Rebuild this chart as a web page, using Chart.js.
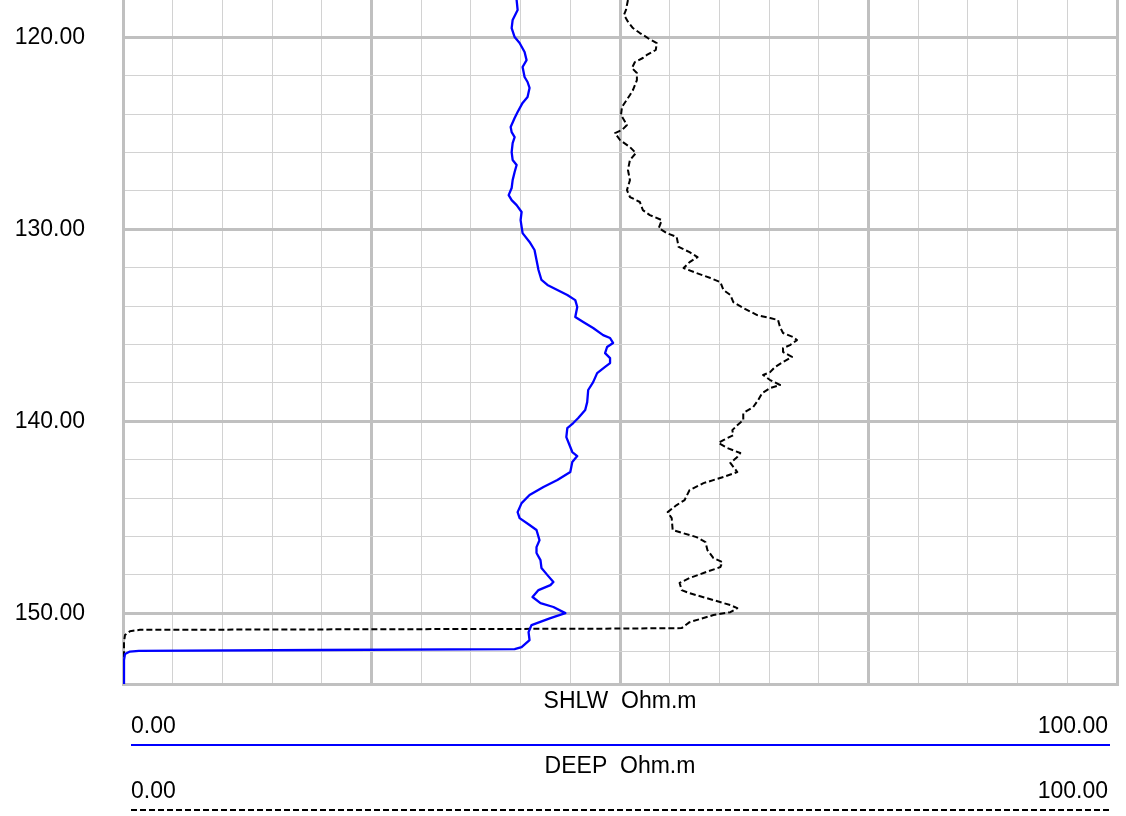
<!DOCTYPE html>
<html>
<head>
<meta charset="utf-8">
<script src="https://cdn.jsdelivr.net/npm/chart.js@4.4.0/dist/chart.umd.min.js"></script>
<style>
  html, body { margin: 0; padding: 0; background: #fff; }
  #wrap { width: 1126px; height: 816px; position: relative; }
</style>
</head>
<body>
<div id="wrap"><canvas id="logChart"></canvas></div>
<script>
// depth (m) and resistivity readings, top to bottom
var shlwDepth = [118.06, 118.58, 119.10, 119.52, 119.99, 120.30, 120.77, 121.19, 121.55, 122.07,
  122.33, 122.64, 123.11, 123.42, 123.89, 124.21, 124.67, 124.94, 125.20, 125.51,
  125.98, 126.39, 126.65, 127.02, 127.44, 127.85, 128.22, 128.48, 128.74, 129.10,
  129.52, 130.20, 130.66, 131.08, 131.60, 132.12, 132.64, 132.90, 133.16, 133.42,
  133.69, 134.05, 134.57, 134.83, 135.14, 135.51, 135.66, 135.92, 136.13, 136.45,
  136.71, 136.97, 137.17, 137.49, 137.96, 138.37, 139.00, 139.41, 139.83, 140.09,
  140.35, 140.82, 141.34, 141.60, 141.81, 142.12, 142.64, 143.06, 143.42, 143.84,
  144.26, 144.73, 145.04, 145.40, 145.66, 146.19, 146.55, 146.86, 147.23, 147.64,
  148.01, 148.37, 148.53, 148.79, 149.15, 149.47, 149.67, 149.99, 150.25, 150.61,
  150.98, 151.39, 151.76, 151.86, 151.91, 151.95, 151.99, 152.12, 152.44, 153.68];
var shlwValue = [39.6, 39.7, 39.2, 39.1, 39.4, 39.9, 40.4, 40.6, 40.2, 40.4,
  40.7, 40.9, 40.7, 40.2, 39.7, 39.4, 39.0, 39.1, 39.4, 39.2,
  39.1, 39.2, 39.6, 39.4, 39.2, 39.1, 38.8, 39.1, 39.6, 40.1,
  40.0, 40.2, 40.9, 41.4, 41.6, 41.8, 42.1, 42.7, 43.7, 44.7,
  45.5, 45.7, 45.5, 46.3, 47.3, 48.3, 49.0, 49.3, 48.7, 48.5,
  49.0, 49.0, 48.5, 47.7, 47.3, 46.8, 46.7, 46.5, 45.8, 45.3,
  44.7, 44.6, 45.0, 45.2, 45.7, 45.2, 45.0, 43.7, 42.3, 40.9,
  40.1, 39.7, 39.9, 40.9, 41.6, 41.9, 41.6, 41.6, 42.0, 42.1,
  42.7, 43.3, 43.0, 41.8, 41.2, 42.0, 43.3, 44.5, 43.0, 41.1,
  40.8, 40.9, 40.1, 39.4, 19.8, 1.6, 0.7, 0.2, 0.1, 0.1];

var deepDepth = [118.06, 118.58, 118.84, 119.19, 119.52, 119.78, 120.04, 120.30, 120.66, 120.92,
  121.08, 121.29, 121.60, 121.86, 122.23, 122.75, 123.01, 123.63, 124.05, 124.57,
  124.83, 124.99, 125.35, 125.72, 126.03, 126.39, 126.91, 127.44, 127.96, 128.32,
  128.58, 129.00, 129.26, 129.52, 129.94, 130.20, 130.40, 130.92, 131.19, 131.45,
  131.71, 132.02, 132.28, 132.54, 132.75, 133.16, 133.42, 133.79, 134.10, 134.47,
  134.62, 134.73, 135.09, 135.40, 135.61, 135.77, 136.03, 136.19, 136.39, 136.65,
  136.91, 137.17, 137.44, 137.59, 137.85, 138.11, 138.27, 138.53, 138.89, 139.26,
  139.57, 139.94, 140.20, 140.46, 140.72, 140.98, 141.13, 141.39, 141.65, 141.86,
  142.17, 142.64, 142.90, 143.22, 143.58, 144.10, 144.36, 144.73, 145.04, 145.66,
  145.82, 146.03, 146.29, 146.71, 147.12, 147.33, 147.59, 147.90, 148.16, 148.42,
  148.79, 148.95, 149.31, 149.57, 149.73, 149.94, 150.09, 150.46, 150.77, 150.80,
  150.82, 150.86, 150.93, 151.13, 151.50, 153.68];
var deepValue = [50.8, 50.6, 50.4, 50.8, 51.3, 52.0, 52.8, 53.7, 53.6, 52.7,
  52.3, 51.5, 51.2, 51.7, 51.7, 51.3, 51.0, 50.2, 50.1, 50.7,
  50.2, 49.5, 50.0, 51.0, 51.6, 51.0, 50.8, 51.0, 50.7, 51.0,
  52.0, 52.3, 53.0, 54.2, 53.9, 54.7, 55.7, 55.9, 57.0, 57.8,
  57.0, 56.4, 57.7, 59.1, 60.1, 60.4, 61.1, 61.4, 62.4, 63.8,
  65.1, 65.9, 66.1, 66.4, 67.4, 67.8, 67.1, 66.4, 66.4, 67.3,
  66.4, 65.6, 65.1, 64.4, 65.1, 66.1, 65.1, 64.3, 63.9, 63.4,
  62.4, 62.4, 61.8, 61.3, 61.4, 60.4, 59.9, 60.8, 62.1, 61.8,
  61.1, 61.8, 60.4, 58.4, 57.0, 56.5, 55.7, 54.8, 55.2, 55.3,
  56.3, 57.7, 58.6, 58.8, 59.4, 60.3, 60.1, 58.4, 57.0, 56.0,
  56.2, 57.0, 59.4, 61.1, 61.8, 61.1, 59.4, 57.0, 56.2, 48.0,
  32.7, 1.7, 0.7, 0.2, 0.1, 0.1];

// axis ranges and grid ticks
var depthTop = 118.06;
var depthBottom = 153.68;
var depthTicks = [120, 122, 124, 126, 128, 130, 132, 134, 136, 138, 140, 142, 144, 146, 148, 150, 152];
var depthLabels = ['120.00', '130.00', '140.00', '150.00'];
var curveNames = ['SHLW  Ohm.m', 'DEEP  Ohm.m'];
var scaleLeftLabels = ['0.00', '0.00'];
var scaleRightLabels = ['100.00', '100.00'];

function toPoints(depths, values) {
  var pts = [];
  for (var i = 0; i < depths.length; i++) pts.push({ x: values[i], y: depths[i] });
  return pts;
}

var fontFamily = '"Liberation Sans", Arial, sans-serif';

// header block under the track: curve name, scale ends and line sample
var trackHeader = {
  id: 'trackHeader',
  afterDraw: function(chart) {
    var c = chart.ctx;
    var a = chart.chartArea;
    var mid = (a.left + a.right) / 2;
    var x0 = 131, x1 = 1110;
    c.save();
    c.fillStyle = '#000';
    c.font = '23px ' + fontFamily;
    var rows = [
      { base: 708, color: '#0000ff', dash: [] },
      { base: 773, color: '#000000', dash: [6, 3] }
    ];
    rows.forEach(function(r, i) {
      c.textAlign = 'center';
      c.textBaseline = 'alphabetic';
      c.fillText(curveNames[i], mid, r.base);
      c.textAlign = 'left';
      c.fillText(scaleLeftLabels[i], x0, r.base + 25);
      c.textAlign = 'right';
      c.fillText(scaleRightLabels[i], x1 - 2, r.base + 25);
      c.beginPath();
      c.strokeStyle = r.color;
      c.lineWidth = 2;
      c.setLineDash(r.dash);
      c.moveTo(x0, r.base + 37);
      c.lineTo(x1, r.base + 37);
      c.stroke();
    });
    c.restore();
  }
};

var ctx = document.getElementById('logChart').getContext('2d');
var logChart = new Chart(ctx, {
  type: 'scatter',
  data: {
    datasets: [{
      label: 'SHLW',
      data: toPoints(shlwDepth, shlwValue),
      showLine: true,
      borderColor: '#0000ff',
      borderWidth: 2.3,
      borderJoinStyle: 'round',
      borderCapStyle: 'round',
      pointRadius: 0,
      tension: 0
    }, {
      label: 'DEEP',
      data: toPoints(deepDepth, deepValue),
      showLine: true,
      borderColor: '#000000',
      borderWidth: 2,
      borderDash: [6, 3],
      borderJoinStyle: 'round',
      pointRadius: 0,
      tension: 0
    }]
  },
  options: {
    responsive: true,
    maintainAspectRatio: false,
    animation: false,
    layout: { padding: { left: 0, right: 9, top: 0, bottom: 132 } },
    plugins: {
      legend: { display: false },
      tooltip: { enabled: false }
    },
    scales: {
      x: {
        type: 'linear',
        min: 0,
        max: 100,
        ticks: { display: false, stepSize: 5 },
        grid: {
          drawTicks: false,
          color: function(c) { return c.tick.value % 25 === 0 ? '#c0c0c0' : '#d2d2d2'; },
          lineWidth: function(c) { return c.tick.value % 25 === 0 ? 3 : 1; }
        },
        border: { display: true, color: '#c0c0c0', width: 3 }
      },
      y: {
        type: 'linear',
        reverse: true,
        min: depthTop,
        max: depthBottom,
        afterBuildTicks: function(scale) {
          scale.ticks = depthTicks.map(function(v) { return { value: v }; });
        },
        afterFit: function(scale) {
          scale.width = 123;
          scale.paddingTop = 0;
          scale.paddingBottom = 0;
        },
        ticks: {
          padding: 38,
          color: '#000',
          font: { family: fontFamily, size: 23 },
          callback: function(v) {
            var s = v.toFixed(2);
            return depthLabels.indexOf(s) >= 0 ? s : '';
          }
        },
        grid: {
          drawTicks: false,
          color: function(c) { return c.tick.value % 10 === 0 ? '#c0c0c0' : '#d2d2d2'; },
          lineWidth: function(c) { return c.tick.value % 10 === 0 ? 3 : 1; }
        },
        border: { display: true, color: '#c0c0c0', width: 3 }
      }
    }
  },
  plugins: [trackHeader]
});
</script>
</body>
</html>
